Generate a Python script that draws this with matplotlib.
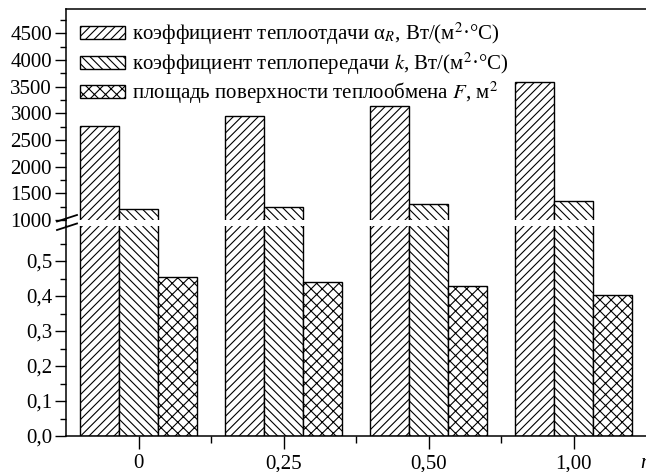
import numpy as np
import matplotlib
matplotlib.use("Agg")
import matplotlib.pyplot as plt
from matplotlib.lines import Line2D

plt.rcParams['font.family'] = ['Liberation Serif', 'DejaVu Serif']
plt.rcParams['mathtext.fontset'] = 'stix'
plt.rcParams['hatch.linewidth'] = 0.8

# data
groups = ['0', '0,25', '0,50', '1,00']
alpha_r = [2770, 2955, 3145, 3595]      # Вт/(м2·°С)
k_coef = [1215, 1250, 1295, 1360]       # Вт/(м2·°С)
area_f = [0.455, 0.441, 0.428, 0.403]   # м2

upper_ticks = [1000, 1500, 2000, 2500, 3000, 3500, 4000, 4500]
lower_ticks = [0.0, 0.1, 0.2, 0.3, 0.4, 0.5]
lower_labels = ['0,0', '0,1', '0,2', '0,3', '0,4', '0,5']

labels = [r'коэффициент теплоотдачи α$_R$, Вт/(м$^2$·°С)',
          r'коэффициент теплопередачи $k$, Вт/(м$^2$·°С)',
          r'площадь поверхности теплообмена $F$, м$^2$']
hatches = ['////', '\\\\\\\\', 'xxx']

W, H = 646, 472
fig = plt.figure(figsize=(W / 100, H / 100), dpi=100)

def fx(px):
    return px / W

def fy(py):
    return 1 - py / H

ax_top = fig.add_axes([fx(66), fy(220), fx(646) - fx(66), fy(9) - fy(220)])
ax_bot = fig.add_axes([fx(66), fy(436), fx(646) - fx(66), fy(226) - fy(436)])

x = np.arange(len(groups))
width = 0.27
series = [alpha_r, k_coef, area_f]
fs = 15

for ax in (ax_top, ax_bot):
    for i, (vals, h) in enumerate(zip(series, hatches)):
        ax.bar(x + (i - 1) * width, vals, width, color='white', edgecolor='black',
               hatch=h, linewidth=1.0, label=labels[i])
    ax.set_xlim(-0.5, 3.5)
    ax.spines['right'].set_visible(False)
    ax.tick_params(axis='y', which='major', direction='out', length=8, width=1,
                   labelsize=fs, pad=2)
    ax.tick_params(axis='y', which='minor', direction='out', length=4, width=1)
    for s in ax.spines.values():
        s.set_linewidth(1.1)

# upper part
ax_top.set_ylim(1000, 4956)
ax_top.set_yticks(upper_ticks)
ax_top.set_yticklabels([str(t) for t in upper_ticks])
ax_top.set_yticks(np.arange(1250, 4956, 500), minor=True)
ax_top.spines['bottom'].set_visible(False)
ax_top.tick_params(axis='x', which='both', bottom=False, top=False, labelbottom=False)

# lower part
ax_bot.set_ylim(0, 0.6)
ax_bot.set_yticks(lower_ticks)
ax_bot.set_yticklabels(lower_labels)
ax_bot.set_yticks([0.05, 0.15, 0.25, 0.35, 0.45, 0.55], minor=True)
ax_bot.spines['top'].set_visible(False)
ax_bot.set_xticks(x)
ax_bot.set_xticklabels(groups)
ax_bot.set_xticks(x[:-1] + 0.5, minor=True)
ax_bot.tick_params(axis='x', which='major', direction='out', length=9, width=1,
                   labelsize=fs, pad=4)
ax_bot.tick_params(axis='x', which='minor', direction='out', length=5, width=1)

ax_bot.text(fx(640), fy(463), 'n', transform=fig.transFigure, fontsize=fs,
            style='italic', ha='left', va='center')

# spine across the break and break marks
fig.add_artist(Line2D([fx(66), fx(66)], [fy(226), fy(220)], color='black', lw=1.1))
fig.add_artist(Line2D([fx(57), fx(77)], [fy(221.5), fy(215)], color='black', lw=1.3))
fig.add_artist(Line2D([fx(57), fx(77)], [fy(230), fy(223.5)], color='black', lw=1.3))

leg = ax_top.legend(loc='upper left', bbox_to_anchor=(fx(82) - fx(66), 1 - 12 / 211),
                    bbox_transform=ax_top.transAxes, frameon=False, fontsize=fs,
                    handlelength=2.16, handleheight=0.58, handletextpad=0.34,
                    labelspacing=0.15, borderpad=0, borderaxespad=0)

plt.savefig('out.png', dpi=100)
